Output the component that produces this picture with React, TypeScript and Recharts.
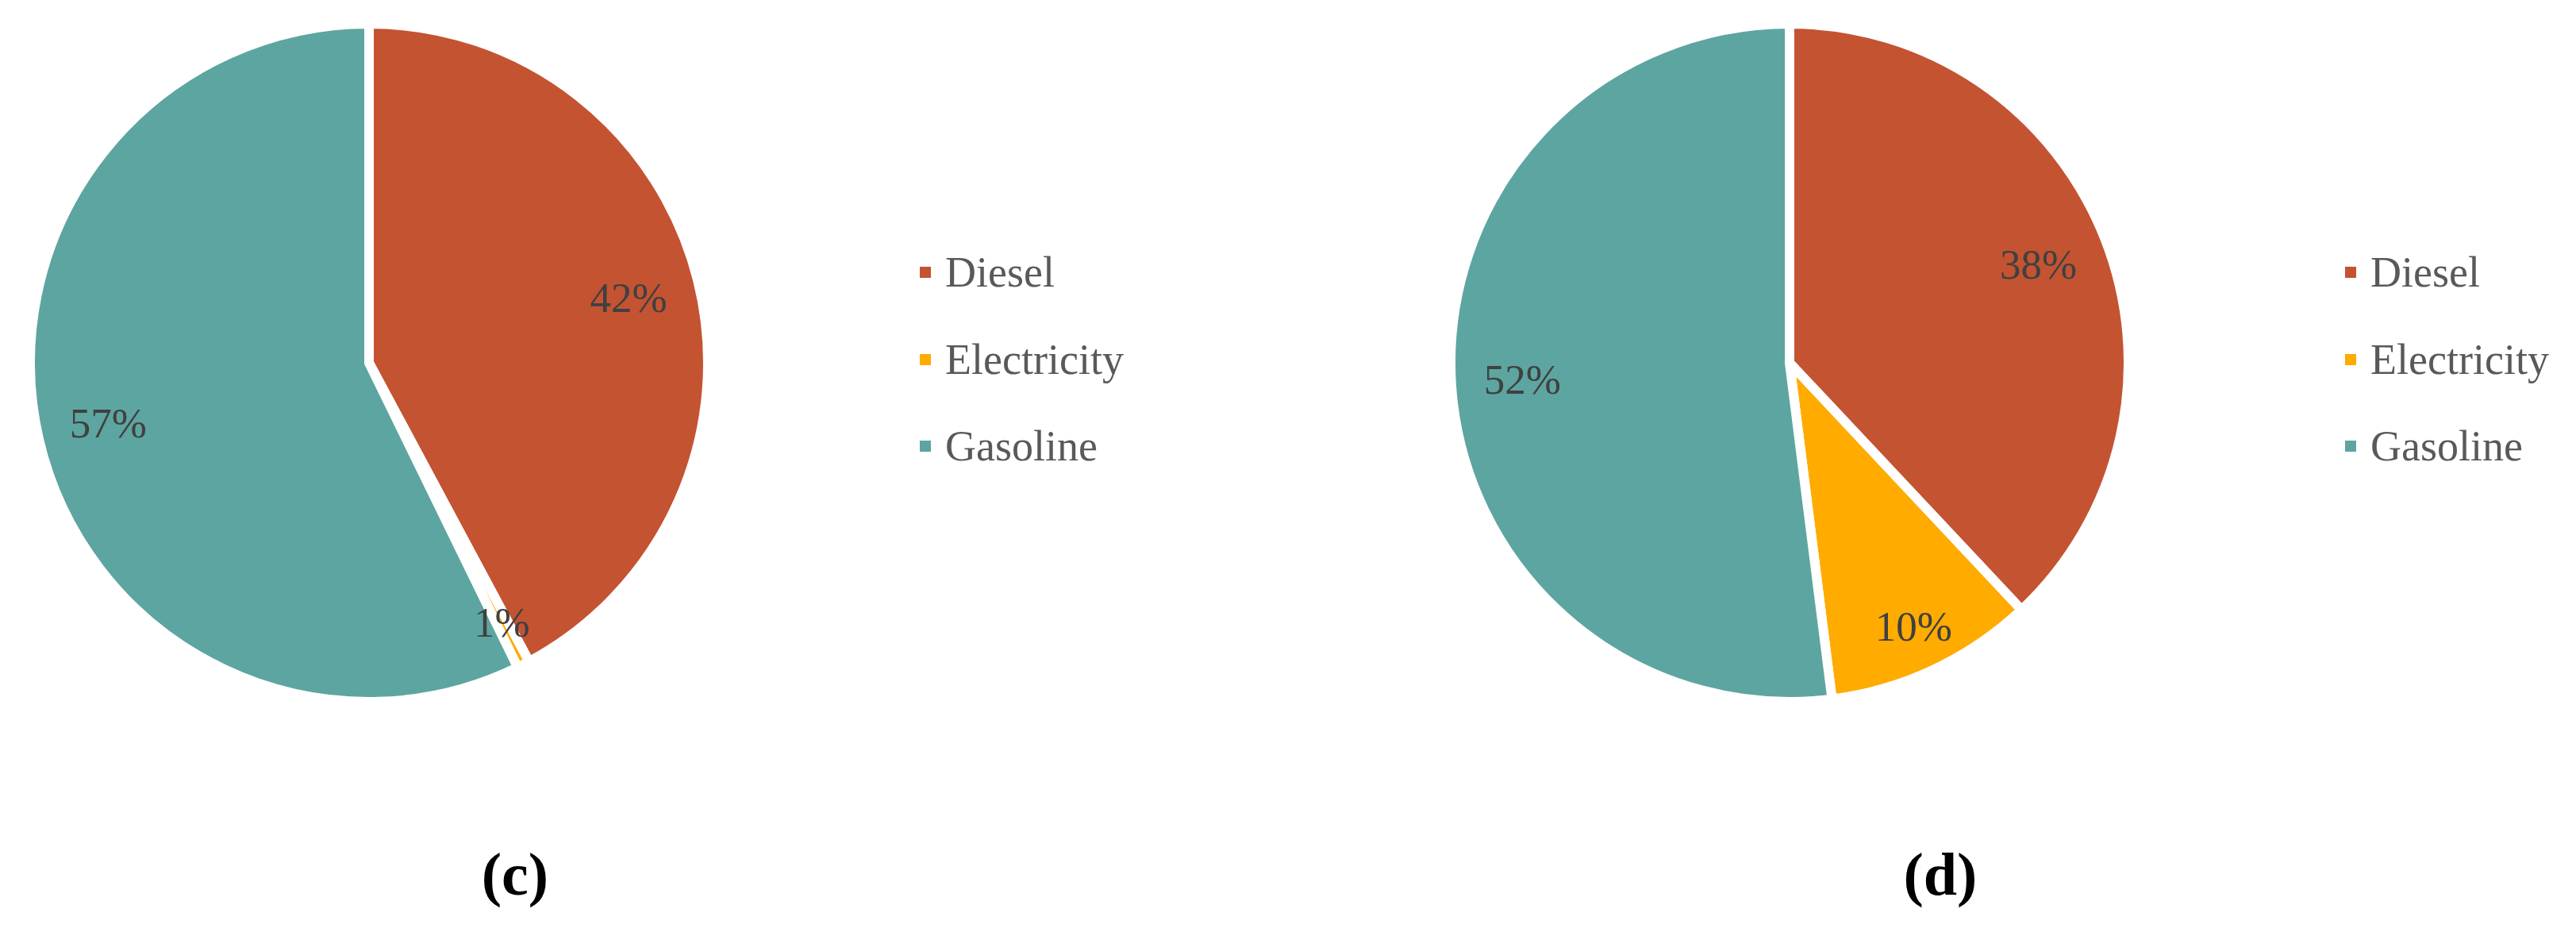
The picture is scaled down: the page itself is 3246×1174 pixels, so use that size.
import React from "react";
import { PieChart, Pie, Cell } from "recharts";

const categories = ["Diesel", "Electricity", "Gasoline"];
const colors = ["#C45332", "#FFAB00", "#5DA5A0"];
const valuesC = [42, 0.6, 57];
const valuesD = [38, 10, 52];
const captions = ["(c)", "(d)"];

const FONT = "Liberation Serif, DejaVu Serif, serif";
const RADIAN = Math.PI / 180;

const toData = (vals: number[]) =>
  categories.map((name, i) => ({ name, value: vals[i] }));

const renderLabel = (props: any) => {
  const { cx, cy, midAngle, outerRadius, percent } = props;
  const r = outerRadius * (percent < 0.15 ? 0.86 : 0.79);
  const x = cx + r * Math.cos(-midAngle * RADIAN);
  const y = cy + r * Math.sin(-midAngle * RADIAN);
  return (
    <text
      x={x}
      y={y}
      fill="#404040"
      fontSize={53}
      fontFamily={FONT}
      textAnchor="middle"
      dominantBaseline="central"
    >
      {`${Math.round(percent * 100)}%`}
    </text>
  );
};

const PiePanel: React.FC<{ values: number[]; left: number; cx: number }> = ({
  values,
  left,
  cx,
}) => (
  <div style={{ position: "absolute", left, top: 0 }}>
    <PieChart width={1100} height={1000}>
      <Pie
        data={toData(values)}
        dataKey="value"
        nameKey="name"
        cx={cx}
        cy={452}
        outerRadius={427}
        startAngle={90}
        endAngle={-270}
        stroke="#ffffff"
        strokeWidth={12}
        label={renderLabel}
        labelLine={false}
        isAnimationActive={false}
      >
        {categories.map((c, i) => (
          <Cell key={c} fill={colors[i]} />
        ))}
      </Pie>
    </PieChart>
  </div>
);

const LegendBlock: React.FC<{ left: number }> = ({ left }) => (
  <div style={{ position: "absolute", left, top: 0 }}>
    {categories.map((c, i) => (
      <div
        key={c}
        style={{
          position: "absolute",
          top: 343 + i * 109.5 - 27,
          left: 0,
          height: 54,
          display: "flex",
          alignItems: "center",
          whiteSpace: "nowrap",
        }}
      >
        <div style={{ width: 14, height: 14, background: colors[i] }} />
        <span
          style={{
            marginLeft: 18,
            fontSize: 54,
            lineHeight: 1,
            color: "#595959",
            fontFamily: FONT,
          }}
        >
          {c}
        </span>
      </div>
    ))}
  </div>
);

const Caption: React.FC<{ text: string; center: number }> = ({ text, center }) => (
  <div
    style={{
      position: "absolute",
      left: center - 200,
      width: 400,
      top: 1063,
      textAlign: "center",
      fontSize: 76,
      lineHeight: 1,
      fontWeight: "bold",
      fontFamily: FONT,
      color: "#000",
    }}
  >
    {text}
  </div>
);

export default function App() {
  return (
    <div
      style={{
        position: "absolute",
        left: 0,
        top: 0,
        width: 3246,
        height: 1174,
        background: "#fff",
        overflow: "hidden",
        fontFamily: FONT,
      }}
    >
      <PiePanel values={valuesC} left={0} cx={460} />
      <PiePanel values={valuesD} left={1700} cx={550} />
      <LegendBlock left={1159} />
      <LegendBlock left={2955} />
      <Caption text={captions[0]} center={649} />
      <Caption text={captions[1]} center={2445} />
    </div>
  );
}
